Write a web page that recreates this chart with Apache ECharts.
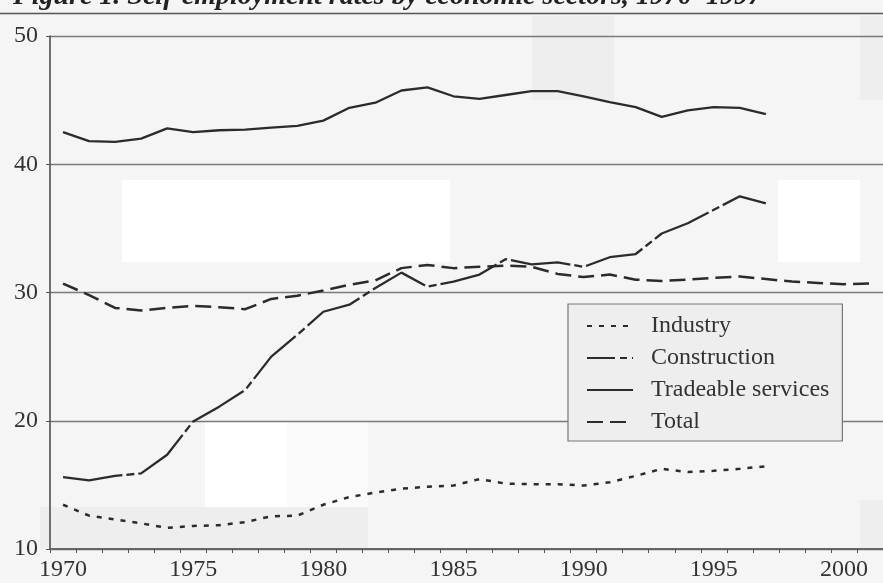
<!DOCTYPE html>
<html>
<head>
<meta charset="utf-8">
<script src="https://cdn.jsdelivr.net/npm/echarts@6/dist/echarts.min.js"></script>
<style>
  html, body { margin: 0; padding: 0; background: #f5f5f5; }
  #chart { width: 883px; height: 583px; }
</style>
</head>
<body>
<div id="chart"></div>
<script>
// years on the axis (data runs to 1997, total to 2001)
const years = []
for (let y = 1970; y <= 2001; y++) years.push(String(y))

const industry = [13.45, 12.6, 12.3, 12.0, 11.65, 11.8, 11.85, 12.1, 12.55, 12.6,
  13.45, 14.05, 14.4, 14.7, 14.85, 14.95, 15.45, 15.1, 15.05, 15.05,
  14.95, 15.2, 15.7, 16.25, 16.0, 16.1, 16.25, 16.45]

const construction = [15.6, 15.35, 15.7, 15.9, 17.35, 19.95, 21.1, 22.4, 25.0, 26.7,
  28.5, 29.05, 30.35, 31.55, 30.45, 30.85, 31.4, 32.6, 32.2, 32.35,
  32.0, 32.75, 33.0, 34.6, 35.4, 36.45, 37.5, 36.95]

const tradeable = [42.5, 41.8, 41.75, 42.0, 42.8, 42.5, 42.65, 42.7, 42.85, 43.0,
  43.4, 44.4, 44.8, 45.75, 46.0, 45.3, 45.1, 45.4, 45.7, 45.7,
  45.3, 44.85, 44.45, 43.7, 44.2, 44.45, 44.4, 43.9]

const total = [30.7, 29.8, 28.8, 28.6, 28.8, 28.95, 28.85, 28.7, 29.5, 29.75,
  30.15, 30.6, 30.95, 31.9, 32.15, 31.9, 32.0, 32.1, 32.0, 31.45,
  31.2, 31.4, 31.0, 30.9, 31.0, 31.15, 31.25, 31.05, 30.85, 30.75,
  30.65, 30.7]

const yTicks = { min: 10, max: 50, step: 10 }

const serif = '"Liberation Serif", "DejaVu Serif", serif'
const ink = '#2b2b2b'

const chart = echarts.init(document.getElementById('chart'))

// scan-like background patches
const patches = [
  { x: 122, y: 180, w: 328, h: 82, c: '#ffffff' },
  { x: 778, y: 180, w: 82, h: 82, c: '#ffffff' },
  { x: 205, y: 422, w: 82, h: 85, c: '#ffffff' },
  { x: 287, y: 422, w: 81, h: 85, c: '#fafafa' },
  { x: 40, y: 507, w: 328, h: 42, c: '#eeeeee' },
  { x: 532, y: 16, w: 82, h: 84, c: '#eeeeee' },
  { x: 860, y: 16, w: 23, h: 84, c: '#eeeeee' },
  { x: 860, y: 500, w: 23, h: 49, c: '#eeeeee' }
]

function mkLine(name, data, type, width) {
  return {
    name,
    type: 'line',
    data,
    symbol: 'none',
    smooth: false,
    lineStyle: { color: ink, width, type },
    itemStyle: { color: ink },
    z: 3
  }
}

chart.setOption({
  backgroundColor: '#f5f5f5',
  animation: false,
  title: {
    text: 'Figure 1. Self-employment rates by economic sectors, 1970–1997',
    left: 8,
    top: -22,
    textStyle: {
      fontFamily: serif,
      fontStyle: 'italic',
      fontWeight: 'bold',
      fontSize: 28,
      color: '#222'
    }
  },
  graphic: [
    ...patches.map(p => ({
      type: 'rect',
      shape: { x: p.x, y: p.y, width: p.w, height: p.h },
      style: { fill: p.c },
      z: -10,
      silent: true
    })),
    {
      type: 'line',
      shape: { x1: 0, y1: 13.5, x2: 883, y2: 13.5 },
      style: { stroke: '#555', lineWidth: 1.5 },
      z: 10
    }
  ],
  grid: { left: 50, right: -2, top: 36, bottom: 34 },
  xAxis: {
    type: 'category',
    data: years,
    boundaryGap: true,
    axisLine: { lineStyle: { color: '#666', width: 2 } },
    axisTick: { show: true, interval: 0, length: 4, lineStyle: { color: '#555' } },
    axisLabel: {
      interval: 4,
      margin: 9,
      fontFamily: serif,
      fontSize: 24,
      color: '#333'
    },
    splitLine: { show: false }
  },
  yAxis: {
    type: 'value',
    min: yTicks.min,
    max: yTicks.max,
    interval: yTicks.step,
    axisLine: { show: true, lineStyle: { color: '#444', width: 1.5 } },
    axisTick: { show: true, length: 4, lineStyle: { color: '#555' } },
    axisLabel: {
      margin: 12,
      fontFamily: serif,
      fontSize: 24,
      color: '#333'
    },
    splitLine: { show: true, lineStyle: { color: '#7a7a7a', width: 1.3 } }
  },
  legend: {
    orient: 'vertical',
    left: 568,
    top: 304,
    width: 277,
    padding: [10, 13, 7, 18],
    itemWidth: 46,
    itemHeight: 14,
    itemGap: 8,
    backgroundColor: '#eeeeee',
    borderColor: '#777',
    borderWidth: 1.2,
    itemStyle: { opacity: 0 },
    textStyle: {
      fontFamily: serif,
      fontSize: 24,
      lineHeight: 24,
      color: '#333',
      padding: [0, 0, 0, 13]
    },
    data: [
      'Industry',
      { name: 'Construction', lineStyle: { type: [28, 5, 7, 5] } },
      'Tradeable services',
      'Total'
    ]
  },
  series: [
    mkLine('Industry', industry, [5, 7], 2.5),
    mkLine('Construction', construction, [60, 4, 8, 4], 2.3),
    mkLine('Tradeable services', tradeable, 'solid', 2.3),
    mkLine('Total', total, [16, 7], 2.5)
  ]
})
</script>
</body>
</html>
